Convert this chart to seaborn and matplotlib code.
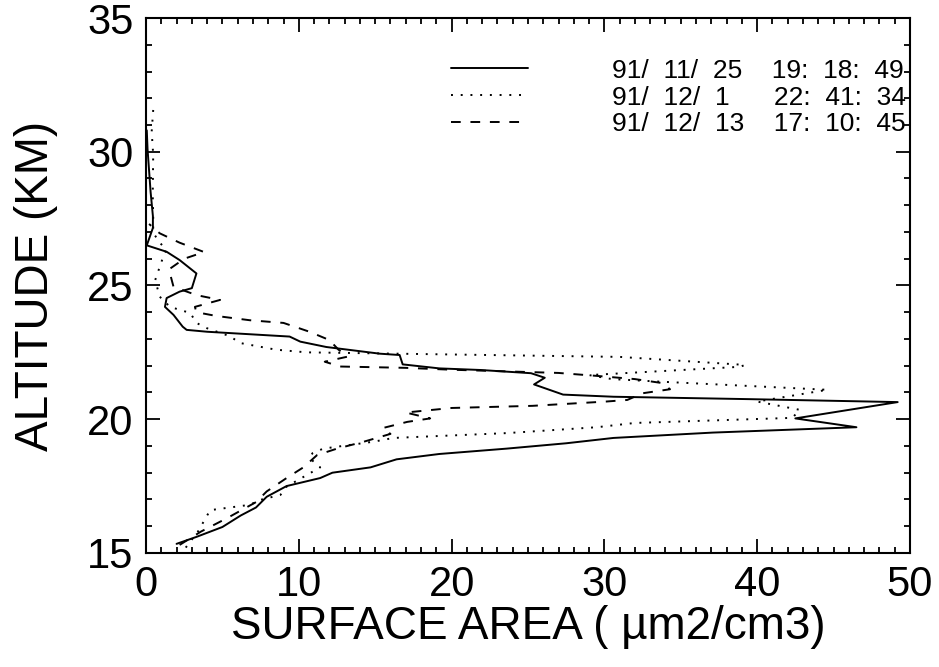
import pandas as pd
import numpy as np
import matplotlib
matplotlib.use("Agg")
import matplotlib.pyplot as plt
import seaborn as sns
from matplotlib.ticker import MultipleLocator

# Profiles: altitude (km) and surface area (um2/cm3)
alt_nov25 = [15.34, 15.6, 15.97, 16.4, 16.7, 17.1, 17.5, 17.8, 18.0, 18.2, 18.5, 18.7, 18.9, 19.1, 19.3,
             19.5, 19.7, 20.03, 20.64, 20.75, 20.84, 20.92, 21.3, 21.55, 21.72, 21.84, 21.9, 22.05, 22.4, 22.45,
             22.7, 22.9, 23.09, 23.27, 23.34, 23.46, 23.9, 24.2, 24.53, 24.77, 24.9, 25.45, 25.95, 26.26, 26.5,
             27.15, 27.6, 28.5, 30.1, 30.8]
area_nov25 = [2.0, 3.3, 5.0, 6.2, 7.2, 7.9, 9.2, 11.4, 12.2, 14.7, 16.4, 19.2, 23.6, 27.5, 30.6,
              37.1, 46.5, 42.5, 49.2, 39.5, 30.6, 27.3, 25.4, 26.1, 25.2, 21.9, 19.2, 16.8, 16.6, 15.3,
              11.8, 10.1, 9.4, 4.0, 2.66, 2.4, 1.8, 1.24, 1.35, 2.2, 3.0, 3.3, 2.2, 1.35, 0.05,
              0.45, 0.45, 0.3, 0.1, 0.05]

alt_dec01 = [15.2, 15.8, 16.6, 16.8, 16.98, 17.17, 17.48, 18.2, 18.55, 18.73, 18.9, 19.16, 19.3, 19.48, 19.7,
             19.86, 20.05, 20.35, 20.66, 21.1, 21.4, 21.5, 21.65, 21.96, 22.03, 22.33, 22.42, 22.5, 22.6, 22.85,
             23.1, 23.4, 23.6, 23.97, 24.2, 24.58, 25.2, 25.7, 26.08, 26.33, 26.6, 26.97, 27.6, 28.4, 29.9,
             30.75, 31.8]
area_dec01 = [2.6, 3.4, 4.2, 6.8, 7.45, 8.8, 9.2, 11.4, 10.7, 10.9, 11.6, 14.9, 16.2, 23.6, 29.5,
              32.0, 42.3, 42.8, 40.0, 44.6, 33.8, 30.5, 29.0, 38.9, 39.2, 31.0, 20.0, 10.5, 8.5, 6.15,
              5.5, 4.0, 3.3, 2.9, 1.57, 0.9, 0.6, 0.9, 1.13, 1.35, 0.9, 0.47, 0.47, 0.44, 0.47,
              0.37, 0.5]

alt_dec13 = [15.3, 15.8, 16.3, 16.9, 17.3, 17.8, 18.2, 18.66, 18.9, 19.15, 19.45, 19.67, 19.9, 20.03, 20.25,
             20.42, 20.5, 20.66, 20.72, 20.97, 21.12, 21.35, 21.5, 21.62, 21.73, 21.85, 21.92, 21.97, 22.15, 22.34,
             22.6, 22.96, 23.27, 23.6, 23.7, 23.86, 24.0, 24.2, 24.46, 24.64, 24.95, 25.6, 26.0, 26.25, 26.6,
             26.95, 27.3]
area_dec13 = [2.2, 3.6, 5.3, 7.2, 7.9, 9.2, 10.3, 11.2, 12.5, 14.2, 16.0, 15.5, 17.1, 18.6, 17.0,
              20.0, 25.3, 30.1, 31.5, 32.5, 34.3, 33.8, 32.0, 29.5, 27.0, 20.0, 17.0, 12.7, 11.7, 13.2,
              12.6, 12.0, 10.7, 9.0, 6.8, 4.6, 3.3, 3.2, 4.85, 3.3, 1.8, 1.5, 2.5, 3.8, 2.2,
              0.9, 0.2]

labels = ["91/  11/  25    19:  18:  49",
          "91/  12/  1      22:  41:  34",
          "91/  12/  13    17:  10:  45"]

df = pd.concat([
    pd.DataFrame({"alt": alt_nov25, "area": area_nov25, "profile": labels[0]}),
    pd.DataFrame({"alt": alt_dec01, "area": area_dec01, "profile": labels[1]}),
    pd.DataFrame({"alt": alt_dec13, "area": area_dec13, "profile": labels[2]}),
], ignore_index=True)

sns.set_style("ticks")
plt.rcParams["font.family"] = ["Liberation Sans", "DejaVu Sans"]
plt.rcParams["text.color"] = "black"
plt.rcParams["axes.labelcolor"] = "black"

fig = plt.figure(figsize=(9.39, 6.67), dpi=100)
ax = fig.add_axes([0.1555, 0.171, 0.8135, 0.802])

line_styles = {labels[0]: "", labels[1]: (1, 4), labels[2]: (5, 5)}
sns.lineplot(data=df, x="area", y="alt", style="profile", dashes=line_styles,
             color="black", linewidth=1.4, sort=False, estimator=None, ax=ax)

ax.set_xlim(0, 50)
ax.set_ylim(15, 35)
ax.xaxis.set_major_locator(MultipleLocator(10))
ax.xaxis.set_minor_locator(MultipleLocator(1))
ax.yaxis.set_major_locator(MultipleLocator(5))
ax.yaxis.set_minor_locator(MultipleLocator(1))
ax.tick_params(which="both", direction="in", top=True, right=True, colors="black", width=1.3)
ax.tick_params(which="major", length=10, labelsize=30, pad=9)
ax.tick_params(which="minor", length=4.5)
for s in ax.spines.values():
    s.set_visible(True)
    s.set_linewidth(1.5)
    s.set_color("black")

ax.set_xlabel("SURFACE AREA ( µm2/cm3)", fontsize=33, labelpad=0, color="black")
ax.set_ylabel("ALTITUDE (KM)", fontsize=33, labelpad=21, color="black")

handles, _ = ax.get_legend_handles_labels()
ax.legend(handles[-3:], labels, loc="upper right", bbox_to_anchor=(0.995, 0.924),
          frameon=False, fontsize=19, handlelength=2.9, handletextpad=3.2,
          labelspacing=0.11, borderpad=0, borderaxespad=0, labelcolor="black")

fig.savefig("out.png", dpi=100)
